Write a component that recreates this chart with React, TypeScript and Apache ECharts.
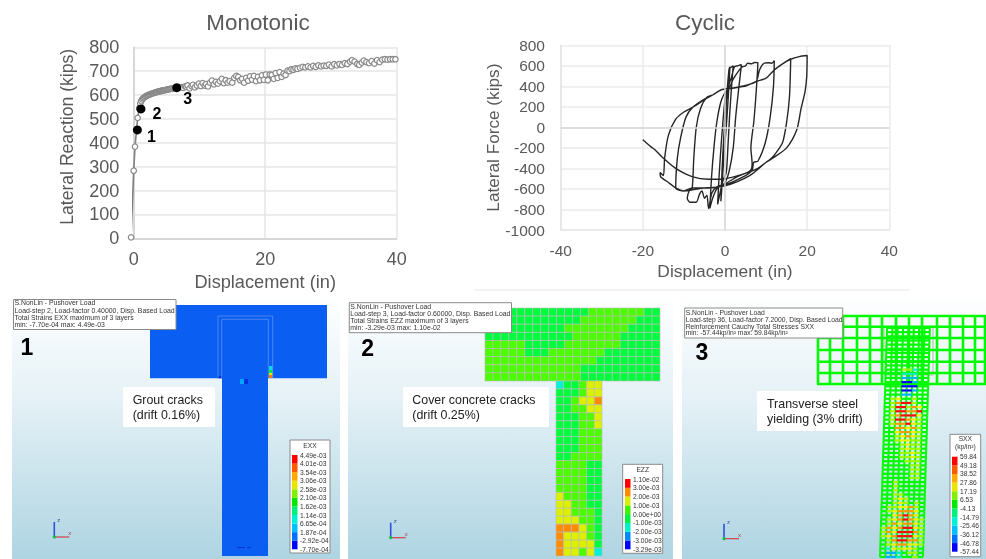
import React, { useEffect, useRef } from "react";
import * as echarts from "echarts";

const FONT = "Liberation Sans";
const SMALL_FONT = "Liberation Sans";

// ---- Monotonic pushover curve
const monotonicPoints: number[][] = [
  [-0.4, 4], [0, 283], [0.2, 384], [0.6, 504], [0.85, 545], [1, 565], [1.15, 575], [1.3, 582], [1.45, 587], [1.6, 590],
  [1.75, 593], [1.9, 596], [2.05, 598], [2.2, 600], [2.35, 602], [2.5, 603], [2.65, 605], [2.8, 606], [2.95, 608], [3.1, 609],
  [3.25, 610], [3.4, 611], [3.55, 613], [3.7, 614], [3.85, 615], [4, 616], [4.15, 617], [4.3, 618], [4.45, 619], [4.6, 620],
  [4.75, 621], [4.9, 622], [5.05, 623], [5.2, 624], [5.35, 624], [5.5, 626], [5.65, 626], [5.8, 627], [5.95, 628], [6.1, 628],
  [6.3, 629], [6.5, 630], [6.8, 631], [7, 632], [7.3, 633], [7.5, 630], [7.8, 636], [8, 634], [8.2, 640], [8.5, 628],
  [8.8, 637], [9, 643], [9.3, 632], [9.6, 640], [9.9, 648], [10.2, 638], [10.5, 650], [10.8, 640], [11, 646], [11.3, 636],
  [11.6, 652], [11.9, 660], [12.2, 645], [12.5, 655], [12.8, 648], [13.1, 658], [13.4, 668], [13.7, 650], [14, 662], [14.3, 652],
  [14.6, 658], [15, 652], [15.3, 672], [15.6, 680], [15.9, 676], [16.2, 662], [16.5, 668], [16.8, 652], [17.1, 672], [17.4, 660],
  [17.7, 678], [18, 665], [18.3, 680], [18.6, 658], [18.9, 676], [19.2, 662], [19.5, 682], [19.8, 664], [20.1, 686], [20.4, 662],
  [20.7, 686], [21, 684], [21.3, 668], [21.6, 692], [21.9, 672], [22.2, 696], [22.5, 676], [22.8, 690], [23.1, 684], [23.4, 702],
  [23.7, 700], [24, 708], [24.3, 706], [24.6, 712], [24.9, 710], [25.3, 714], [25.7, 718], [26.1, 716], [26.5, 720], [26.9, 716],
  [27.3, 722], [27.7, 718], [28.1, 724], [28.5, 720], [28.9, 723], [29.3, 722], [29.7, 727], [30.1, 720], [30.5, 729], [30.9, 724],
  [31.3, 730], [31.7, 726], [32.1, 734], [32.5, 730], [32.9, 740], [33.2, 746], [33.6, 740], [34, 730], [34.3, 726], [34.7, 736],
  [35, 744], [35.4, 738], [35.8, 734], [36.2, 742], [36.6, 732], [37, 746], [37.4, 738], [37.8, 748], [38.2, 750], [38.6, 748],
  [39, 750], [39.4, 750], [39.8, 750],
];
const monotonicMarks: number[][] = [[0.56, 454], [1.1, 542], [6.55, 631]];
const monotonicMarkNames = ["1", "2", "3"];

// ---- Cyclic hysteresis loop, in drawing order
const cyclicPoints: number[][] = [
  [0, 0], [0.5, 350], [1, 570], [1.2, 590], [0.8, 300], [0.3, 0], [-0.3, -300], [-0.7, -550], [-1, -720], [-0.7, -400],
  [-0.3, -100], [0.2, 200], [0.6, 350], [1, 570], [1.6, 590], [2, 600], [1.6, 400], [1.1, 100], [0.7, -200], [0.3, -440],
  [-0.5, -520], [-1, -600], [-1.8, -750], [-1.4, -450], [-0.9, -150], [-0.3, 150], [0.2, 320], [1.5, 480], [2.3, 590], [3, 600],
  [3.4, 605], [4, 610], [3.4, 400], [2.6, 100], [2, -200], [1, -430], [0, -540], [-1, -570], [-2, -600], [-3, -690],
  [-3.7, -790], [-3.3, -500], [-2.7, -200], [-2, 50], [-1, 250], [0, 340], [1, 380], [2, 470], [3.5, 560], [4.2, 590],
  [5, 600], [5.5, 625], [6.5, 620], [7.2, 632], [8, 630], [7.6, 350], [7, 50], [6.3, -200], [6.6, -350], [6.2, -420],
  [3, -480], [0, -550], [-2, -580], [-3.2, -640], [-4, -790], [-4.4, -660], [-5, -690], [-5.6, -620], [-6.2, -650], [-7, -730],
  [-8.5, -730], [-9.2, -690], [-8.6, -610], [-8, -600], [-7.6, -300], [-7, 0], [-6, 180], [-4.5, 290], [-2.9, 318], [-1, 366],
  [2, 385], [5, 410], [7.6, 447], [8.4, 560], [9.5, 625], [10.6, 630], [11.4, 625], [12, 650], [11.8, 400], [11, 100],
  [9.8, -150], [8, -330], [7, -340], [6.6, -420], [5, -470], [0, -560], [-4, -590], [-8, -590], [-10, -620], [-12, -590],
  [-11.6, -300], [-10.8, -100], [-9.5, 100], [-7.8, 198], [-5.3, 269], [-2.9, 318], [-0.9, 366], [1.9, 382], [5.2, 405], [7.6, 447],
  [10, 480], [12, 560], [14, 619], [16, 670], [15.7, 300], [15, 50], [14, -150], [12, -270], [11, -310], [10, -340],
  [6, -470], [0, -570], [-5, -590], [-10, -620], [-12, -590], [-14, -530], [-15.7, -480], [-15.8, -440], [-15, -470], [-14.7, -300],
  [-13.8, -80], [-12, 80], [-10, 150], [-7.8, 198], [-5, 270], [-2.9, 318], [-0.9, 366], [1.9, 382], [5.2, 405], [7.6, 447],
  [10, 480], [12, 560], [14, 619], [16, 664], [18.1, 690], [20, 700], [19.9, 500], [19.5, 350], [18.5, 180], [17.5, -20],
  [15, -200], [12, -290], [10, -340], [8, -400], [4, -460], [0, -500], [-4, -505], [-8, -480], [-12, -400], [-15, -300],
  [-17, -220], [-18, -190], [-20, -120],
];

// ---- Tick text
const legendExx = ["4.49e-03", "4.01e-03", "3.54e-03", "3.06e-03", "2.58e-03", "2.10e-03", "1.62e-03", "1.14e-03", "6.65e-04", "1.87e-04", "-2.92e-04", "-7.70e-04"];
const legendEzz = ["1.10e-02", "3.00e-03", "2.00e-03", "1.00e-03", "0.00e+00", "-1.00e-03", "-2.00e-03", "-3.00e-03", "-3.29e-03"];
const legendSxx = ["59.84", "49.18", "38.52", "27.86", "17.19", "6.53", "-4.13", "-14.79", "-25.46", "-36.12", "-46.78", "-57.44"];

// ---- Legend colours, top to bottom
const elevenBands = ["#ff0000", "#ff5a00", "#ffaa00", "#e6e600", "#80f000", "#00e800", "#00f080", "#00f0d8", "#00c0ff", "#0070ff", "#0000ff"];
const eightBands = ["#ff0000", "#ff8c00", "#d8f000", "#40f000", "#00f040", "#00f0c8", "#0088ff", "#0000ff"];

// ---- Panel 1 contour patches: x0, y0, x1, y1, colour number
const panel1Colors = ["#0b5ef2", "#00d8e8", "#00e840", "#e6e600", "#ff7a00", "#00a8ff", "#0030e0"];
const panel1Cells: number[][] = [
  [0, 0, 177, 73.3, 0], [72, 73, 118, 251, 0], [119, 61, 122.7, 65, 1], [119, 65, 122.7, 68, 2], [119, 68, 122.7, 70, 3],
  [119, 70, 122.7, 73, 4], [90, 74, 94, 79, 5], [94, 74, 98, 79, 6], [68, 71, 72, 73.3, 6], [87, 242, 95, 243, 6], [97, 242, 101, 243, 6],
];

// ---- Panel 2 contour cells, as one letter per element
const panel2Colors: Record<string, string> = { G: "#00fc3c", Y: "#4cfc00", E: "#dcf000", O: "#ff8c00", C: "#00f0d8" };
const panel2FlangeRows = [
  "GGGGGGGGGGGGGYYYYYYYGG",
  "GGGGGGGGGGGGYYYYYYYGGG",
  "GGGGGGGGGGYYYYYYYYGGGG",
  "GGGGGGGGGGGYYYYYYGGGGG",
  "YYYYYGGGGGYYYYYYYGGGGG",
  "YYYYYGGGYYYYYYYGGGGGGG",
  "YYYYYYYYYYYYYYGGGGGGGG",
  "YYYYYYYYYYYYGGGGGGGGGG",
  "YYYYYYYYYYYYGGGGGGGGGG",
];
const panel2ColumnRows = [
  "CGGYEE", "GGGYEE", "GGYEEO", "GGYYEE", "GGGYYE", "GGGYYE", "GGGYYY", "GGGYYY", "GGGYYY", "GGYYYY", "YYYYGG",
  "YYYYGG", "YYYYGG", "YYYYGG", "EYYYGG", "EEYYGG", "EEYYYG", "EEEYYG", "OOOEYG", "OEEEYG", "OEEEEG", "OEEYEC",
];

// ---- Panel 3 reinforcement: bar positions and stress letters (8 bays, one row per hoop)
const panel3Colors: Record<string, string> = {
  ".": "#00fa00", y: "#a0fa00", e: "#f0f000", o: "#ff9800", r: "#ff0800", c: "#00f0c0", s: "#00b0ff", b: "#0000ff",
};
const panel3FlangeHoops = [0, 10.7, 22, 34, 45.7, 57, 68];
const panel3FlangeBars = [1, 13, 26, 40, 53, 65, 79, 92, 105, 120, 133, 146, 158, 168];
const panel3ColumnRows = [
  "........", "........", "........", "........", "........", "........", "........", "........", "........", "........",
  "...yyc..", "...ccc..", "...sss..", "...bbs..", "...bbb..", "...bbs..", "...ss...", ".ye..y..", ".yorry..", ".yrryoe.",
  ".yrroor.", ".yorrre.", ".yrroey.", ".yoorey.", "..ooeoy.", "..eooey.", "..yeoey.", "..yeeyy.", "...yeyy.", "...yeyy.",
  "...yyey.", "...yyey.", "....yyy.", ".....yy.", ".....yy.", ".....yy.", ".....yy.", "..y.....", "..y.....", "..y.....",
  "..yy....", "..yey...", "..yey.y.", ".yyeeoy.", ".yeoooe.", "..eoroe.", ".yeoroey", ".yoeooey", "yoeorrey", "yoerrroy",
  "yeorrrey", ".yorrooy", ".yeooeey", ".ceyeey.", ".ssc.yy.", ".ssc..y.",
];

// ---- Captions
const panelInfo = [
  ["S.NonLin - Pushover Load", "Load-step 2, Load-factor 0.40000, Disp. Based Load", "Total Strains EXX maximum of 3 layers", "min: -7.70e-04 max: 4.49e-03"],
  ["S.NonLin - Pushover Load", "Load-step 3, Load-factor 0.60000, Disp. Based Load", "Total Strains EZZ maximum of 3 layers", "min: -3.29e-03 max: 1.10e-02"],
  ["S.NonLin - Pushover Load", "Load-step 36, Load-factor 7.2000, Disp. Based Load", "Reinforcement Cauchy Total Stresses SXX", "min: -57.44kp/in² max: 59.84kp/in²"],
];
const panelCallouts = [
  ["Grout cracks", "(drift 0.16%)"],
  ["Cover concrete cracks", "(drift 0.25%)"],
  ["Transverse steel", "yielding (3% drift)"],
];

const axisNameStyle = (size: number, extra: object = {}) => ({ color: "#595959", fontSize: size, fontFamily: FONT, ...extra });
const plainNumber = (v: number) => String(v);

const hiddenAxes = (gridIndex: number, xMax: number, yMax: number) => ({
  x: { type: "value", gridIndex, min: 0, max: xMax, show: false },
  y: { type: "value", gridIndex, min: 0, max: yMax, inverse: true, show: false },
});

const cellRenderer = (stroke: string | null, palette: any) => (_: any, api: any) => {
  const a = api.coord([api.value(0), api.value(1)]);
  const b = api.coord([api.value(2), api.value(3)]);
  return {
    type: "rect",
    shape: { x: a[0], y: a[1], width: b[0] - a[0], height: b[1] - a[1] },
    style: { fill: palette[api.value(4)], stroke: stroke || undefined, lineWidth: stroke ? 0.6 : 0 },
  };
};

const matrixCells = (rows: string[], letters: string[]) =>
  rows.flatMap((row, r) => row.split("").map((ch, c) => [c, r, c + 1, r + 1, letters.indexOf(ch)]));

function buildOption() {
  const grids: any[] = [];
  const xAxes: any[] = [];
  const yAxes: any[] = [];
  const series: any[] = [];
  const graphics: any[] = [];

  const addHidden = (left: number, top: number, width: number, height: number, xMax: number, yMax: number) => {
    const idx = grids.length;
    grids.push({ left, top, width, height, containLabel: false });
    const ax = hiddenAxes(idx, xMax, yMax);
    xAxes.push(ax.x);
    yAxes.push(ax.y);
    return idx;
  };

  // Monotonic chart
  grids.push({ left: 133.7, top: 47.3, width: 263, height: 191 });
  xAxes.push({
    type: "value", gridIndex: 0, min: 0, max: 40, interval: 20, name: "Displacement (in)", nameLocation: "middle", nameGap: 35,
    nameTextStyle: axisNameStyle(18.2),
    axisLine: { show: true, onZero: false, lineStyle: { color: "#d0d0d0", width: 1.5 } }, axisTick: { show: false },
    axisLabel: { color: "#595959", fontSize: 18, fontFamily: FONT, margin: 12 },
    splitLine: { show: true, lineStyle: { color: "#e6e6e6", width: 1.5 } },
  });
  yAxes.push({
    type: "value", gridIndex: 0, min: 0, max: 800, interval: 100, name: "Lateral Reaction (kips)", nameLocation: "middle", nameGap: 58,
    nameTextStyle: axisNameStyle(17.6, { padding: [0, 0, 0, 12] }),
    axisLine: { show: true, onZero: false, lineStyle: { color: "#d0d0d0", width: 1.5 } }, axisTick: { show: false },
    axisLabel: { color: "#595959", fontSize: 18, fontFamily: FONT, margin: 14.5 },
    splitLine: { show: true, lineStyle: { color: "#e6e6e6", width: 1.5 } },
  });
  series.push({
    type: "line", xAxisIndex: 0, yAxisIndex: 0, data: monotonicPoints, clip: false, symbol: "circle", symbolSize: 5.5, showSymbol: true,
    lineStyle: { color: "#808080", width: 1.6 }, itemStyle: { color: "#ffffff", borderColor: "#888888", borderWidth: 1.2 }, z: 3,
  });
  const markOffsets = [[14, 7], [16, 5], [11, 11]];
  series.push({
    type: "scatter", xAxisIndex: 0, yAxisIndex: 0, symbolSize: 9, itemStyle: { color: "#000000", opacity: 1 }, z: 4,
    data: monotonicMarks.map((p, i) => ({
      value: p,
      name: monotonicMarkNames[i],
      label: {
        show: true, formatter: monotonicMarkNames[i], position: "inside", offset: markOffsets[i],
        color: "#000000", fontSize: 16, fontWeight: "bold", fontFamily: FONT, opacity: 1,
      },
    })),
  });

  // Cyclic chart
  grids.push({ left: 560.7, top: 45.3, width: 328.6, height: 184.7 });
  xAxes.push({
    type: "value", gridIndex: 1, min: -40, max: 40, interval: 20, name: "Displacement (in)", nameLocation: "middle", nameGap: 32,
    nameTextStyle: axisNameStyle(17.4),
    axisLine: { show: true, onZero: false, lineStyle: { color: "#e6e6e6", width: 1.5 } }, axisTick: { show: false },
    axisLabel: { color: "#595959", fontSize: 15.5, fontFamily: FONT, margin: 12, formatter: plainNumber },
    splitLine: { show: true, lineStyle: { color: "#ebebeb", width: 1.5 } },
  });
  yAxes.push({
    type: "value", gridIndex: 1, min: -1000, max: 800, interval: 200, name: "Lateral Force (kips)", nameLocation: "middle", nameGap: 58,
    nameTextStyle: axisNameStyle(17.2),
    axisLine: { show: true, onZero: false, lineStyle: { color: "#e6e6e6", width: 1.5 } }, axisTick: { show: false },
    axisLabel: { color: "#595959", fontSize: 15.5, fontFamily: FONT, margin: 15.7, formatter: plainNumber },
    splitLine: { show: true, lineStyle: { color: "#ebebeb", width: 1.5 } },
  });
  series.push({
    type: "line", xAxisIndex: 1, yAxisIndex: 1, data: cyclicPoints, symbol: "none", smooth: 0.25, lineStyle: { color: "#262626", width: 1.4 }, z: 3,
    markLine: {
      silent: true, symbol: "none", label: { show: false }, lineStyle: { color: "#d8d8d8", width: 1.5, type: "solid" },
      data: [{ xAxis: 0 }, { yAxis: 0 }],
    },
  });

  // Panel 1
  const p1 = addHidden(150, 305, 177, 251, 177, 251);
  series.push({
    type: "custom", xAxisIndex: p1, yAxisIndex: p1, data: panel1Cells, renderItem: cellRenderer(null, panel1Colors), z: 2,
  });

  // Panel 2
  const g2Letters = Object.keys(panel2Colors);
  const g2Palette = g2Letters.map((k) => panel2Colors[k]);
  const p2a = addHidden(485, 308, 175, 73, 22, 9);
  series.push({
    type: "custom", xAxisIndex: p2a, yAxisIndex: p2a, data: matrixCells(panel2FlangeRows, g2Letters),
    renderItem: cellRenderer("#bcbcbc", g2Palette), z: 2,
  });
  const p2b = addHidden(556, 381, 46, 175, 6, 22);
  series.push({
    type: "custom", xAxisIndex: p2b, yAxisIndex: p2b, data: matrixCells(panel2ColumnRows, g2Letters),
    renderItem: cellRenderer("#bcbcbc", g2Palette), z: 2,
  });

  // Panel 3 flange bars
  const p3a = addHidden(817, 316, 169, 68, 169, 68);
  const flangeBars = [
    ...panel3FlangeHoops.map((v) => [0, v, 169, v]),
    ...panel3FlangeBars.map((v) => [v, 0, v, 68]),
  ];
  series.push({
    type: "custom", xAxisIndex: p3a, yAxisIndex: p3a, data: flangeBars, z: 2,
    renderItem: (_: any, api: any) => {
      const a = api.coord([api.value(0), api.value(1)]);
      const b = api.coord([api.value(2), api.value(3)]);
      return { type: "line", shape: { x1: a[0], y1: a[1], x2: b[0], y2: b[1] }, style: { stroke: "#00fa00", lineWidth: 2.6 } };
    },
  });

  // Panel 3 column cage, leaning with height
  const cageLetters = Object.keys(panel3Colors);
  const cagePalette = cageLetters.map((k) => panel3Colors[k]);
  const p3b = addHidden(880, 328, 51, 229, 9.5, 55);
  const lean = 1.3;
  const lastRow = panel3ColumnRows.length - 1;
  const cageCells = panel3ColumnRows.flatMap((row, r) =>
    (row + ".").split("").map((ch, c) => [c, r, cageLetters.indexOf(ch), c === 8 ? 1 : 0]),
  );
  series.push({
    type: "custom", xAxisIndex: p3b, yAxisIndex: p3b, data: cageCells, z: 3,
    renderItem: (_: any, api: any) => {
      const c = api.value(0);
      const r = api.value(1);
      const level = api.value(2);
      const isEnd = api.value(3);
      const shift = (row: number) => lean * (1 - row / lastRow);
      const a = api.coord([c + shift(r), r]);
      const right = api.coord([c + 1 + shift(r), r]);
      const down = api.coord([c + shift(r + 1), Math.min(r + 1, lastRow)]);
      const children: any[] = [
        { type: "line", shape: { x1: a[0], y1: a[1], x2: down[0], y2: down[1] }, style: { stroke: "#00fa00", lineWidth: 2 } },
      ];
      if (!isEnd) {
        children.push({
          type: "line", z2: level === 0 ? 1 : 5, shape: { x1: a[0], y1: a[1], x2: right[0], y2: right[1] },
          style: { stroke: cagePalette[level], lineWidth: 2.2 },
        });
      }
      return { type: "group", children };
    },
  });

  // Legends: a category axis whose ticks sit on the band edges
  const addLegend = (left: number, top: number, height: number, labels: string[], bands: string[], labelGap: number) => {
    const idx = grids.length;
    grids.push({ left, top, width: 5.5, height });
    xAxes.push({ type: "value", gridIndex: idx, min: 0, max: 1, show: false });
    yAxes.push({
      type: "category", gridIndex: idx, position: "right", boundaryGap: false, data: labels.slice().reverse(),
      axisLine: { show: false }, axisTick: { show: false }, splitLine: { show: false },
      axisLabel: { interval: 0, color: "#333333", fontSize: 6.7, fontFamily: SMALL_FONT, margin: labelGap },
    });
    const rev = bands.slice().reverse();
    series.push({
      type: "custom", xAxisIndex: idx, yAxisIndex: idx, z: 3,
      data: rev.map((_, i) => [0, i, 1, i + 1, i]),
      renderItem: cellRenderer(null, rev),
    });
  };
  addLegend(292, 455, 94.3, legendExx, elevenBands, 2.5);
  addLegend(625, 479, 70.3, legendEzz, eightBands, 2.5);
  addLegend(952, 456.7, 95, legendSxx, elevenBands, 2.5);

  // Panel backgrounds
  const bgFill = {
    type: "linear", x: 0, y: 0, x2: 0, y2: 1,
    colorStops: [{ offset: 0, color: "#ffffff" }, { offset: 0.4, color: "#e4f1f6" }, { offset: 1, color: "#aed4e2" }],
  };
  const backs = [[12, 328], [348, 325], [682, 304]];
  backs.forEach(([x, w]) => graphics.push({ type: "rect", z: -5, shape: { x, y: 295, width: w, height: 264 }, style: { fill: bgFill } }));
  graphics.push({ type: "rect", z: -4, shape: { x: 474, y: 289, width: 436, height: 2 }, style: { fill: "#f2f2f2" } });
  graphics.push({ type: "rect", z: -3, shape: { x: 884, y: 327, width: 49, height: 48 }, style: { fill: "none", stroke: "#c8c8c8", lineWidth: 1.5 } });

  // Info boxes
  const infoBoxes = [
    { x: 13.5, y: 299.5, w: 162.5, h: 30, size: 6.9, tops: [302.7, 310, 317, 324] },
    { x: 349.3, y: 302.7, w: 162.2, h: 30, size: 6.9, tops: [306, 313, 320, 327] },
    { x: 684.7, y: 308, w: 158, h: 30, size: 6.75, tops: [312, 319, 326, 332.7] },
  ];
  infoBoxes.forEach((b, i) => {
    graphics.push({ type: "rect", z: 10, shape: { x: b.x, y: b.y, width: b.w, height: b.h }, style: { fill: "#ffffff", stroke: "#8a8a8a", lineWidth: 1 } });
    panelInfo[i].forEach((t, k) => {
      graphics.push({
        type: "text", z: 11, x: b.x + 1, y: b.tops[k],
        style: { text: t, fontSize: b.size, fontFamily: SMALL_FONT, fill: "#333333", verticalAlign: "middle", align: "left" },
      });
    });
  });

  // Big panel numbers
  const numbers = [["1", 27, 347], ["2", 367.7, 348], ["3", 702, 352]];
  numbers.forEach(([t, x, y]) =>
    graphics.push({
      type: "text", z: 11, x, y,
      style: { text: t, fontSize: 23, fontWeight: "bold", fontFamily: FONT, fill: "#000000", align: "center", verticalAlign: "middle" },
    }),
  );

  // Callouts
  const calloutBoxes = [
    { x: 123, y: 387, w: 92, h: 40, tx: 132.7, l1: 400, l2: 415 },
    { x: 403, y: 387, w: 146, h: 40, tx: 412.3, l1: 400, l2: 415 },
    { x: 757, y: 391, w: 121, h: 40, tx: 767, l1: 404, l2: 419 },
  ];
  calloutBoxes.forEach((b, i) => {
    graphics.push({ type: "rect", z: 10, shape: { x: b.x, y: b.y, width: b.w, height: b.h }, style: { fill: "#ffffff" } });
    [b.l1, b.l2].forEach((y, k) =>
      graphics.push({
        type: "text", z: 11, x: b.tx, y,
        style: { text: panelCallouts[i][k], fontSize: 12.4, fontFamily: FONT, fill: "#222222", verticalAlign: "middle", align: "left" },
      }),
    );
  });

  // Legend frames and headings
  const frames = [
    { x: 290, y: 440, w: 40, h: 113, heads: [["EXX", 445]] },
    { x: 622.7, y: 464.3, w: 40, h: 89, heads: [["EZZ", 469]] },
    { x: 950, y: 434.3, w: 30.7, h: 122.4, heads: [["SXX", 438.5], ["(kp/in²)", 446]] },
  ];
  frames.forEach((f) => {
    graphics.push({ type: "rect", z: -1, shape: { x: f.x, y: f.y, width: f.w, height: f.h }, style: { fill: "#ffffff", stroke: "#8a8a8a", lineWidth: 1 } });
    f.heads.forEach(([t, y]) =>
      graphics.push({
        type: "text", z: 11, x: f.x + f.w / 2, y,
        style: { text: t, fontSize: 6.7, fontFamily: SMALL_FONT, fill: "#333333", align: "center", verticalAlign: "middle" },
      }),
    );
  });

  // Coordinate triads
  const triads = [[54.3, 537], [390.7, 537.7], [724, 538.7]];
  triads.forEach(([x, y]) => {
    graphics.push({ type: "line", z: 6, shape: { x1: x, y1: y, x2: x, y2: y - 15 }, style: { stroke: "#3050e0", lineWidth: 1.6 } });
    graphics.push({ type: "line", z: 6, shape: { x1: x, y1: y, x2: x + 15, y2: y }, style: { stroke: "#d04050", lineWidth: 1.2 } });
    graphics.push({ type: "circle", z: 7, shape: { cx: x, cy: y, r: 1.6 }, style: { fill: "#10c040" } });
    graphics.push({ type: "text", z: 7, x: x + 3, y: y - 17, style: { text: "z", fontSize: 6, fontFamily: SMALL_FONT, fill: "#3050a0", verticalAlign: "middle" } });
    graphics.push({ type: "text", z: 7, x: x + 14, y: y - 4, style: { text: "x", fontSize: 6, fontFamily: SMALL_FONT, fill: "#b04050", verticalAlign: "middle" } });
  });

  // Panel 1 embedded-column outlines
  graphics.push({
    type: "polyline", z: 5, shape: { points: [[218, 378], [218, 316], [272.7, 316], [272.7, 378]] },
    style: { stroke: "#5c90f0", lineWidth: 0.8, fill: "none" },
  });
  graphics.push({
    type: "polyline", z: 5, shape: { points: [[221.7, 378], [221.7, 319.3], [268.3, 319.3], [268.3, 378]] },
    style: { stroke: "#5c90f0", lineWidth: 0.8, fill: "none" },
  });

  return {
    animation: false,
    backgroundColor: "#ffffff",
    textStyle: { fontFamily: FONT },
    title: [
      { text: "Monotonic", left: 253, top: 6, textAlign: "center", textStyle: { color: "#595959", fontSize: 22.4, fontWeight: "normal", fontFamily: FONT } },
      { text: "Cyclic", left: 700, top: 6, textAlign: "center", textStyle: { color: "#595959", fontSize: 22.5, fontWeight: "normal", fontFamily: FONT } },
    ],
    grid: grids,
    xAxis: xAxes,
    yAxis: yAxes,
    series,
    graphic: { elements: graphics },
  };
}

export default function App() {
  const ref = useRef<HTMLDivElement>(null);
  useEffect(() => {
    const chart = echarts.init(ref.current!, undefined, { renderer: "svg" });
    chart.setOption(buildOption() as any);
    return () => chart.dispose();
  }, []);
  return (
    <div
      ref={ref}
      style={{ position: "fixed", left: 0, top: 0, width: 986, height: 559, background: "#ffffff", filter: "blur(0.5px)" }}
    />
  );
}
